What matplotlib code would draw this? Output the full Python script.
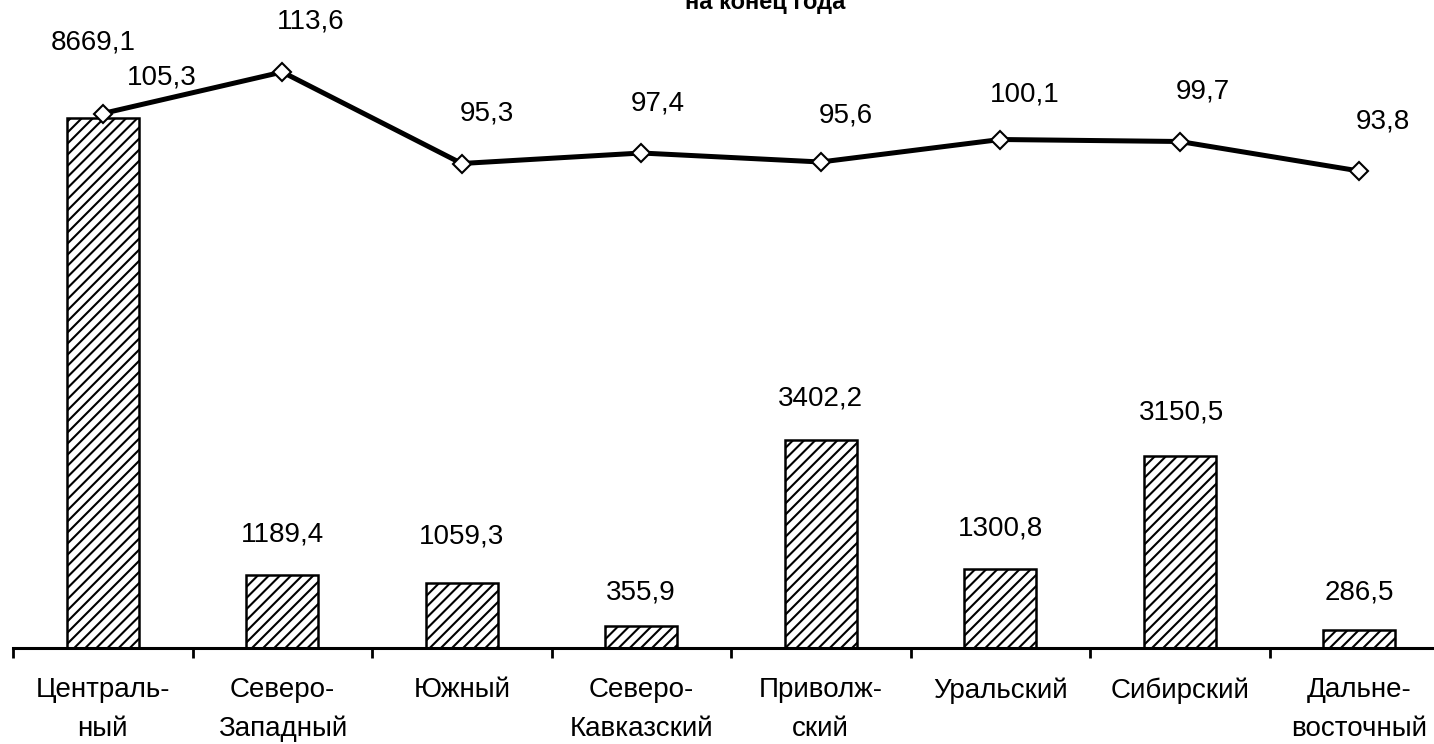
import matplotlib
matplotlib.use('Agg')
import matplotlib.pyplot as plt
import numpy as np

# ---- data ----
regions = ["Централь-\nный", "Северо-\nЗападный", "Южный", "Северо-\nКавказский",
           "Приволж-\nский", "Уральский", "Сибирский", "Дальне-\nвосточный"]
bar_values = [8669.1, 1189.4, 1059.3, 355.9, 3402.2, 1300.8, 3150.5, 286.5]
line_values = [105.3, 113.6, 95.3, 97.4, 95.6, 100.1, 99.7, 93.8]
title_text = "на конец года"

# ---- label placement (pixels) ----
bar_lbl_dx = [-10, 0, 0, 0, 0, 0, 2, 0]
bar_lbl_dy = [76, 41, 47, 34, 42, 40, 43, 38]
line_lbl_dx = [59, 28, 25, 17, 25, 24, 23, 24]
line_lbl_dy = [36, 50, 50, 49, 47, 45, 50, 49]

FONT = ['Liberation Sans Narrow', 'DejaVu Sans Condensed', 'Liberation Sans', 'DejaVu Sans']
plt.rcParams['font.family'] = FONT
plt.rcParams['hatch.linewidth'] = 1.5
FS = 20

W, H = 1434, 744
AX_BOTTOM = 648
fig = plt.figure(figsize=(W / 100, H / 100), dpi=100)
ax = fig.add_axes([13 / W, (H - AX_BOTTOM) / H, 1436 / W, AX_BOTTOM / H])
ax.set_xlim(-0.5, 7.5)
ax.set_ylim(0, AX_BOTTOM / 0.0611)

x = np.arange(len(regions))
ax.bar(x, bar_values, width=0.40, color='white', edgecolor='black',
       linewidth=1.8, hatch='///', zorder=2)

for sp in ['top', 'right', 'left']:
    ax.spines[sp].set_visible(False)
ax.spines['bottom'].set_linewidth(2.2)
ax.spines['bottom'].set_zorder(3)
ax.set_yticks([])
ax.set_xticks(x)
ax.set_xticklabels(regions, fontsize=FS, linespacing=1.62)
ax.set_xticks(np.arange(-0.5, 8, 1), minor=True)
ax.tick_params(axis='x', which='major', length=0, pad=21)
ax.tick_params(axis='x', which='minor', length=7, width=2.0, direction='out')

PX = 0.72  # pixels -> points
for i, v in enumerate(bar_values):
    ax.annotate(f"{v:.1f}".replace('.', ','), (i, v),
                xytext=(bar_lbl_dx[i] * PX, bar_lbl_dy[i] * PX),
                textcoords='offset points', ha='center', va='center',
                fontsize=FS, color='black')

ax2 = ax.twinx()
ax2.set_ylim(-1.6, 128)
for sp in ax2.spines.values():
    sp.set_visible(False)
ax2.set_yticks([])
ax2.plot(x, line_values, color='black', linewidth=3.6, marker='D',
         markersize=9.5, markerfacecolor='white', markeredgecolor='black',
         markeredgewidth=1.5, zorder=4)
for i, v in enumerate(line_values):
    ax2.annotate(f"{v:.1f}".replace('.', ','), (i, v),
                 xytext=(line_lbl_dx[i] * PX, line_lbl_dy[i] * PX),
                 textcoords='offset points', ha='center', va='center',
                 fontsize=FS, color='black')

fig.text(765 / W, 1 - 9 / H, title_text, ha='center', va='baseline',
         fontsize=17, fontweight='bold')

fig.savefig('out.png', dpi=100)
